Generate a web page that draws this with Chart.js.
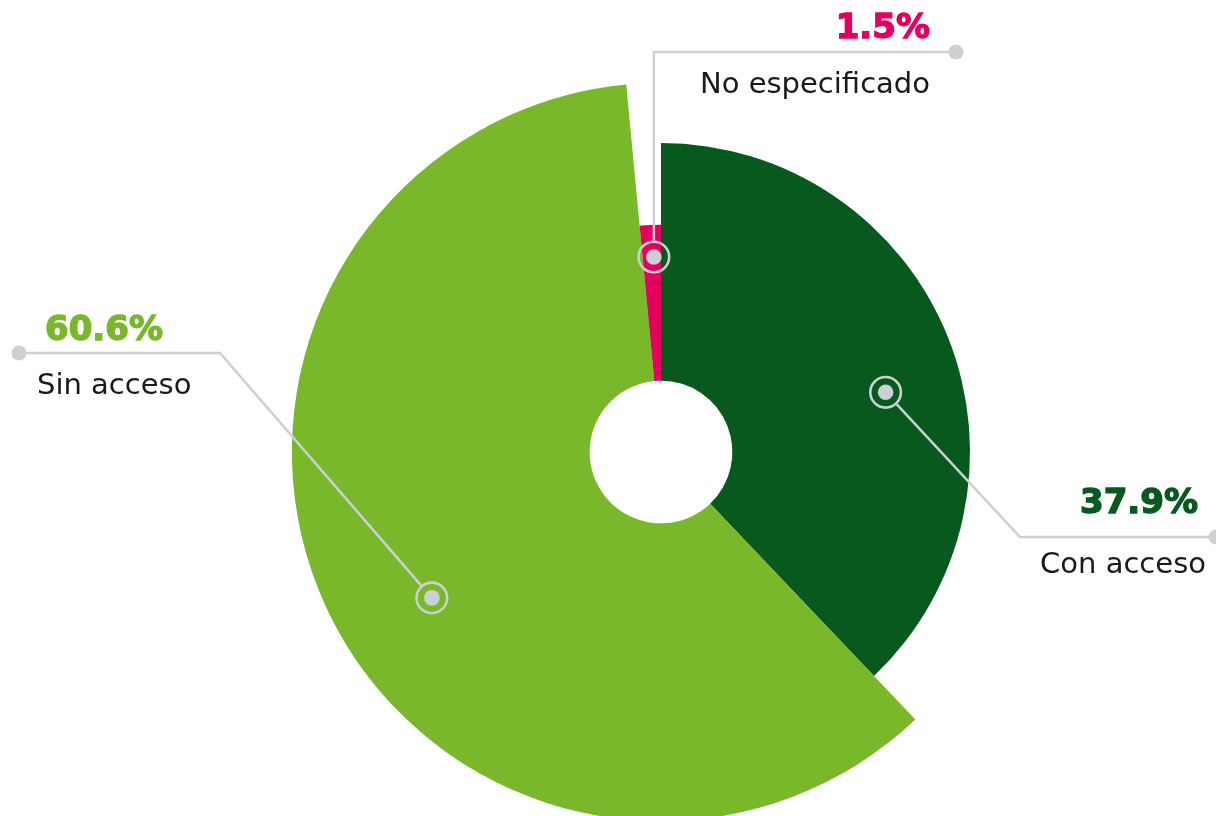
<!DOCTYPE html>
<html>
<head>
<meta charset="utf-8">
<script src="https://cdn.jsdelivr.net/npm/chart.js@4.4.0/dist/chart.umd.min.js"></script>
<style>
  html, body { margin: 0; padding: 0; background: #fff; }
  #wrap { width: 1216px; height: 816px; position: relative; }
</style>
</head>
<body>
<div id="wrap"><canvas id="chart"></canvas></div>
<script>
// data
const categories = ['Con acceso', 'Sin acceso', 'No especificado'];
const shares = [37.9, 60.6, 1.5];
const pctLabels = ['37.9%', '60.6%', '1.5%'];

// look
const sliceColors = ['#08591e', '#79b72b', '#e3005f'];
const radiusFactors = [0.849, 1.014, 0.624];   // outer radius per slice, relative to chart radius
const holeFactor = 0.196;
const markerSpots = [                          // angle offset (deg) from slice middle, radius fraction
    { off: 6.9, frac: 0.752 },
    { off: -8.0, frac: 0.736 },
    { off: 0.6, frac: 0.859 }
];
const callouts = [
    { elbowX: 1020, lineY: 537, endX: 1216, pct: { x: 1198, y: 513, align: 'right' }, lab: { x: 1206, y: 573, align: 'right' } },
    { elbowX: 220, lineY: 353, endX: 19, pct: { x: 45, y: 340, align: 'left' }, lab: { x: 37, y: 394, align: 'left' } },
    { elbowX: null, lineY: 52, endX: 956, pct: { x: 930, y: 38, align: 'right' }, lab: { x: 930, y: 93, align: 'right' } }
];
const lineGray = '#cdd0d2';

const shapeSlices = {
    id: 'shapeSlices',
    afterDatasetsUpdate(chart) {
        const a = chart.chartArea;
        const base = Math.min(a.right - a.left, a.bottom - a.top) / 2;
        chart.getDatasetMeta(0).data.forEach((arc, i) => {
            arc.outerRadius = base * radiusFactors[i];
            arc.innerRadius = base * holeFactor;
        });
    }
};

const calloutsPlugin = {
    id: 'callouts',
    afterDatasetsDraw(chart) {
        const ctx = chart.ctx;
        const arcs = chart.getDatasetMeta(0).data;
        ctx.save();
        arcs.forEach((arc, i) => {
            const spot = markerSpots[i];
            const c = callouts[i];
            const ang = (arc.startAngle + arc.endAngle) / 2 + spot.off * Math.PI / 180;
            const r = arc.outerRadius * spot.frac;
            const mx = arc.x + Math.cos(ang) * r;
            const my = arc.y + Math.sin(ang) * r;
            const ex = c.elbowX === null ? mx : c.elbowX;
            const ey = c.lineY;

            // leader line starting at ring edge
            const dx = ex - mx, dy = ey - my;
            const len = Math.hypot(dx, dy) || 1;
            ctx.strokeStyle = lineGray;
            ctx.lineWidth = 2.5;
            ctx.lineJoin = 'miter';
            ctx.beginPath();
            ctx.moveTo(mx + dx / len * 16.5, my + dy / len * 16.5);
            ctx.lineTo(ex, ey);
            ctx.lineTo(c.endX, ey);
            ctx.stroke();

            // end dot
            ctx.fillStyle = lineGray;
            ctx.beginPath();
            ctx.arc(c.endX, ey, 7.5, 0, Math.PI * 2);
            ctx.fill();

            // marker: dot + ring
            ctx.beginPath();
            ctx.arc(mx, my, 7.8, 0, Math.PI * 2);
            ctx.fill();
            ctx.lineWidth = 2.6;
            ctx.beginPath();
            ctx.arc(mx, my, 15.3, 0, Math.PI * 2);
            ctx.stroke();

            // texts
            ctx.textBaseline = 'alphabetic';
            ctx.fillStyle = sliceColors[i];
            ctx.strokeStyle = sliceColors[i];
            ctx.lineWidth = 1.4;
            ctx.font = 'bold 34px "DejaVu Sans"';
            ctx.textAlign = c.pct.align;
            ctx.fillText(pctLabels[i], c.pct.x, c.pct.y);
            ctx.strokeText(pctLabels[i], c.pct.x, c.pct.y);
            ctx.fillStyle = '#1a1a1a';
            ctx.font = '29px "DejaVu Sans"';
            ctx.textAlign = c.lab.align;
            ctx.fillText(categories[i], c.lab.x, c.lab.y);
        });
        ctx.restore();
    }
};

new Chart(document.getElementById('chart'), {
    type: 'doughnut',
    data: {
        labels: categories,
        datasets: [{
            data: shares,
            backgroundColor: sliceColors,
            borderWidth: 0
        }]
    },
    options: {
        responsive: true,
        maintainAspectRatio: false,
        animation: false,
        cutout: '20%',
        layout: { padding: { left: 106, top: 88, right: 0, bottom: 0 } },
        plugins: {
            legend: { display: false },
            tooltip: { enabled: false }
        }
    },
    plugins: [shapeSlices, calloutsPlugin]
});
</script>
</body>
</html>
